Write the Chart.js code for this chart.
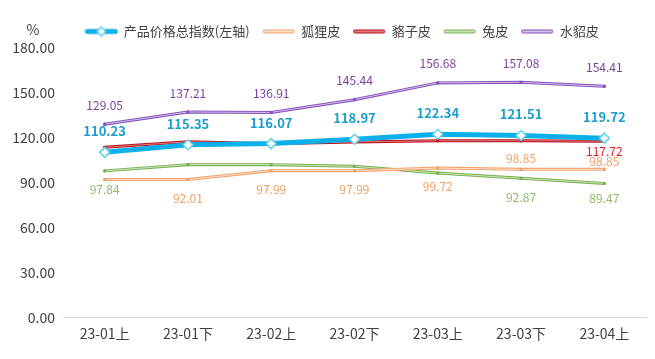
<!DOCTYPE html>
<html>
<head>
<meta charset="utf-8">
<script src="https://cdn.jsdelivr.net/npm/chart.js@4"></script>
<style>
  html, body { margin: 0; background: #fff; }
  #wrap { width: 655px; height: 359px; }
</style>
</head>
<body>
<div id="wrap"><canvas id="chart"></canvas></div>
<script>
const periods = ['23-01上', '23-01下', '23-02上', '23-02下', '23-03上', '23-03下', '23-04上'];
const totalIndex = [110.23, 115.35, 116.07, 118.97, 122.34, 121.51, 119.72];
const foxSkin = [92.01, 92.01, 97.99, 97.99, 99.72, 98.85, 98.85];
const raccoonSkin = [113.6, 117.3, 116.0, 117.2, 118.0, 118.0, 117.72];
const rabbitSkin = [97.84, 102.0, 102.0, 100.9, 96.4, 92.87, 89.47];
const minkSkin = [129.05, 137.21, 136.91, 145.44, 156.68, 157.08, 154.41];
const yTicks = [0, 30, 60, 90, 120, 150, 180];

// which point labels are shown, and how far above(-)/below(+) the point
const totalLabels = [-21, -21, -21, -21, -21, -21, -21];
const foxLabels = [null, 19, 19, 19, 18, -11, -8];
const raccoonLabels = [null, null, null, null, null, null, 10];
const rabbitLabels = [19, null, null, null, null, 19, 15];
const minkLabels = [-19, -19, -19, -19, -19, -19, -19];

const FONT = '"Microsoft YaHei", "Noto Sans CJK SC", sans-serif';

function legendIcon(outer, inner, width, diamond) {
  const c = document.createElement('canvas');
  c.width = 34; c.height = 12;
  const g = c.getContext('2d');
  g.lineCap = 'round';
  g.strokeStyle = outer; g.lineWidth = width;
  g.beginPath(); g.moveTo(3, 6); g.lineTo(31, 6); g.stroke();
  if (inner) {
    g.strokeStyle = inner; g.lineWidth = width - 2;
    g.beginPath(); g.moveTo(3, 6); g.lineTo(31, 6); g.stroke();
  }
  if (diamond) {
    g.fillStyle = '#fff'; g.strokeStyle = '#5fd0e8'; g.lineWidth = 1.5;
    g.beginPath(); g.moveTo(17, 1.5); g.lineTo(21.5, 6); g.lineTo(17, 10.5); g.lineTo(12.5, 6); g.closePath();
    g.fill(); g.stroke();
  }
  return c;
}

function series(label, data, outer, inner, width, labels, labelColor, labelFont) {
  return {
    label, data,
    borderColor: outer, innerColor: inner, borderWidth: width,
    pointRadius: 1.5, pointBackgroundColor: outer, pointBorderColor: outer, pointBorderWidth: 0,
    tension: 0, fill: false,
    valueLabels: labels, labelColor, labelFont
  };
}

const datasets = [
  {
    label: '产品价格总指数(左轴)', data: totalIndex,
    borderColor: '#0bb0ea', borderWidth: 5,
    pointStyle: 'rectRot', pointRadius: 5, pointBackgroundColor: '#fff',
    pointBorderColor: '#62d2e8', pointBorderWidth: 1.5,
    tension: 0, fill: false,
    valueLabels: totalLabels, labelColor: '#1b9dcc', labelFont: 'bold 13px ' + FONT
  },
  series('狐狸皮', foxSkin, '#f0a06a', '#fde0cc', 3, foxLabels, '#f0a064', '12px ' + FONT),
  series('貉子皮', raccoonSkin, '#b8111c', '#e77a7e', 3, raccoonLabels, '#e01f28', '12px ' + FONT),
  series('兔皮', rabbitSkin, '#78b04e', '#cde5bd', 3, rabbitLabels, '#8dbb66', '12px ' + FONT),
  series('水貂皮', minkSkin, '#8450bb', '#d4c2ec', 3, minkLabels, '#7a3fa3', '12px ' + FONT)
];

const icons = [
  legendIcon('#0bb0ea', null, 5, true),
  legendIcon('#f0a06a', '#fde0cc', 4),
  legendIcon('#b8111c', '#e77a7e', 4),
  legendIcon('#78b04e', '#cde5bd', 4),
  legendIcon('#8450bb', '#d4c2ec', 4)
];

// light centre stripe on the thin lines
const innerLine = {
  id: 'innerLine',
  afterDatasetDraw(chart, args) {
    const ds = chart.data.datasets[args.index];
    if (!ds.innerColor) return;
    const pts = args.meta.data;
    const ctx = chart.ctx;
    ctx.save();
    ctx.strokeStyle = ds.innerColor;
    ctx.lineWidth = 1;
    ctx.beginPath();
    pts.forEach((p, i) => i ? ctx.lineTo(p.x, p.y) : ctx.moveTo(p.x, p.y));
    ctx.stroke();
    pts.forEach(p => {
      ctx.fillStyle = ds.borderColor;
      ctx.beginPath(); ctx.arc(p.x, p.y, 1.6, 0, Math.PI * 2); ctx.fill();
    });
    ctx.restore();
  }
};

const valueLabels = {
  id: 'valueLabels',
  afterDatasetsDraw(chart) {
    const ctx = chart.ctx;
    ctx.save();
    ctx.textAlign = 'center';
    ctx.textBaseline = 'middle';
    chart.data.datasets.forEach((ds, di) => {
      const meta = chart.getDatasetMeta(di);
      ctx.fillStyle = ds.labelColor;
      ctx.font = ds.labelFont;
      meta.data.forEach((p, i) => {
        const dy = ds.valueLabels[i];
        if (dy === null) return;
        ctx.fillText(ds.data[i].toFixed(2), p.x, p.y + dy);
      });
    });
    ctx.restore();
  }
};

const unitLabel = {
  id: 'unitLabel',
  afterDraw(chart) {
    const ctx = chart.ctx;
    const y = chart.scales.y;
    ctx.save();
    ctx.fillStyle = '#404040';
    ctx.font = '14px ' + FONT;
    ctx.textAlign = 'center';
    ctx.textBaseline = 'middle';
    ctx.fillText('%', y.right - 30, chart.chartArea.top - 18);
    ctx.restore();
  }
};

// legend sits a little right of the canvas centre
const legendShift = {
  id: 'legendShift',
  afterLayout(chart) {
    chart.legend.left += 19;
    chart.legend.right += 19;
  }
};

const ctx = document.getElementById('chart').getContext('2d');
const chart = new Chart(ctx, {
  type: 'line',
  data: { labels: periods, datasets },
  plugins: [innerLine, valueLabels, unitLabel, legendShift],
  options: {
    responsive: true,
    maintainAspectRatio: false,
    animation: false,
    layout: { padding: { top: 12, right: 9, bottom: 9, left: 0 } },
    plugins: {
      tooltip: { enabled: false },
      legend: {
        position: 'top',
        labels: {
          usePointStyle: true,
          pointStyleWidth: 32,
          padding: 13,
          color: '#404040',
          font: { size: 13, family: FONT },
          generateLabels(chart) {
            const items = Chart.defaults.plugins.legend.labels.generateLabels(chart);
            items.forEach(it => { it.pointStyle = icons[it.datasetIndex]; });
            return items;
          }
        }
      }
    },
    scales: {
      x: {
        offset: true,
        grid: { display: false, drawTicks: false },
        border: { display: true, color: '#d9d9d9', width: 1 },
        ticks: { color: '#404040', padding: 8, font: { size: 14, family: FONT } }
      },
      y: {
        min: 0, max: 180,
        afterBuildTicks(scale) { scale.ticks = yTicks.map(v => ({ value: v })); },
        afterFit(scale) { scale.width = 63; },
        grid: { display: false, drawTicks: false },
        border: { display: false },
        ticks: {
          color: '#404040', padding: 8,
          font: { size: 14, family: FONT },
          callback: v => v.toFixed(2)
        }
      }
    }
  }
});
</script>
</body>
</html>
